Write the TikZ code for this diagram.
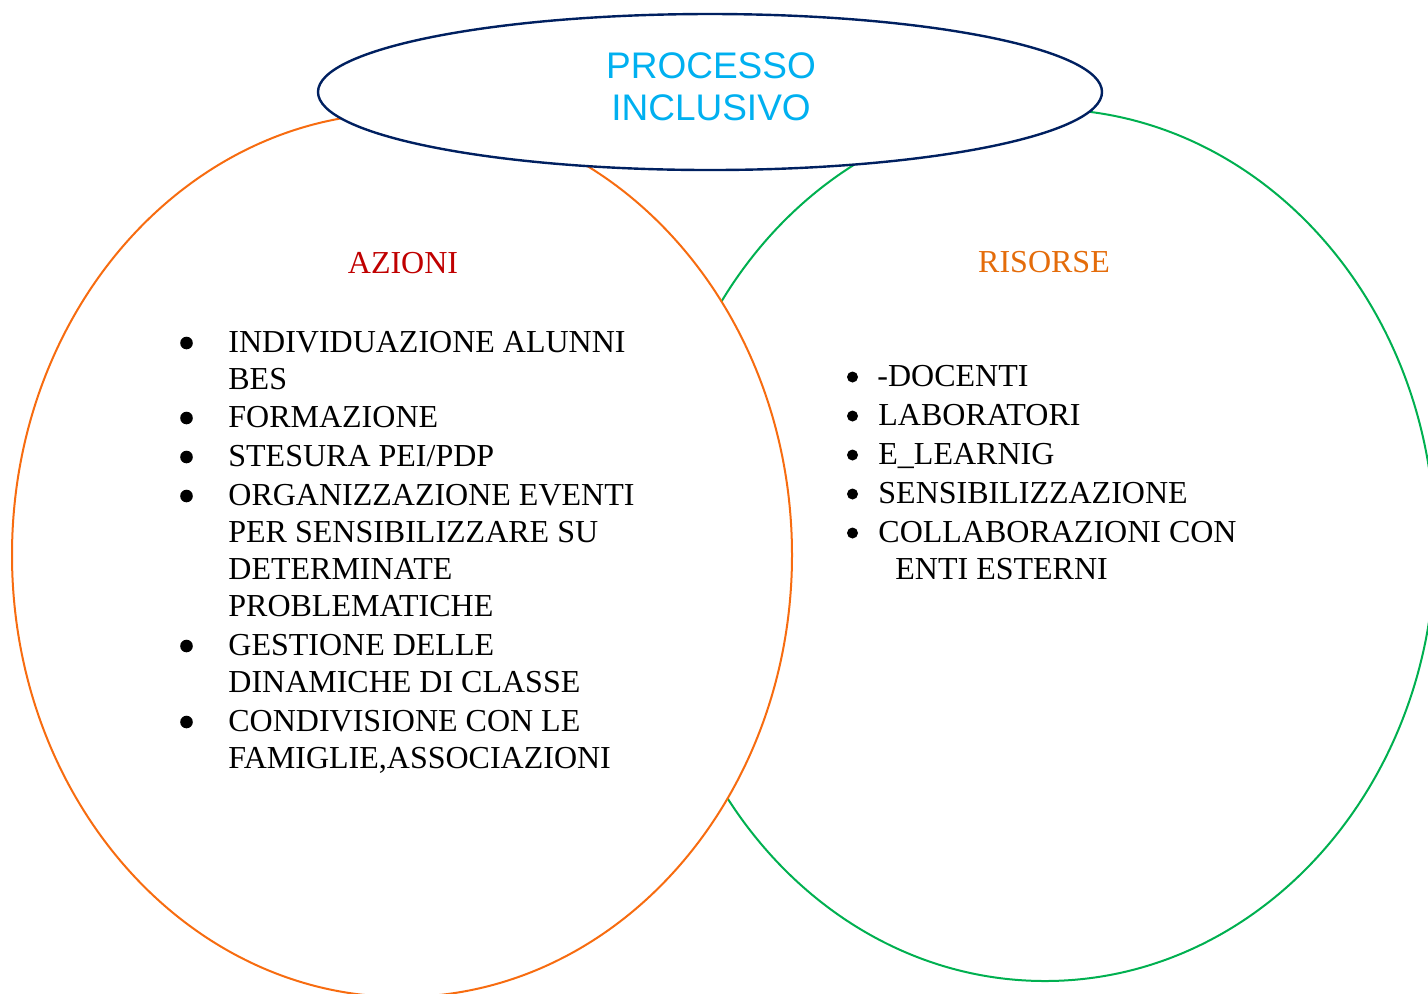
\documentclass[tikz,border=0pt]{standalone}
\usepackage{fontspec}
\setmainfont{Liberation Serif}
\newfontfamily\arialf{Liberation Sans}
\usetikzlibrary{shapes.geometric}
\definecolor{corange}{RGB}{247,108,16}
\definecolor{cgreen}{RGB}{0,176,80}
\definecolor{cnavy}{RGB}{0,32,96}
\definecolor{ccyan}{RGB}{0,176,240}
\definecolor{cred}{RGB}{192,0,0}
\definecolor{crisorse}{RGB}{228,108,10}
\tikzset{
  blob/.style={ellipse, inner sep=0pt, fill=white},
  item/.style={anchor=base west, inner sep=0pt, font=\fontsize{16}{19}\selectfont},
  lbul/.style={circle, fill=black, inner sep=0pt, minimum size=6.3pt},
  rbul/.style={circle, fill=black, inner sep=0pt, minimum size=5.5pt},
  head/.style={anchor=base, inner sep=0pt, font=\fontsize{16}{19}\selectfont},
}
\begin{document}
\begin{tikzpicture}[x=0.5pt,y=-0.5pt]
\useasboundingbox (0,0) rectangle (1428,993);
% ellipses
\node[blob, draw=cgreen, line width=1pt, minimum width=390pt, minimum height=436pt] (risorse) at (1045,545) {};
\node[blob, draw=corange, line width=1pt, minimum width=390pt, minimum height=442pt] (azioni) at (402,555) {};
\node[blob, draw=cnavy, line width=1.2pt, minimum width=392pt, minimum height=78pt] (processo) at (710,92) {};
% title
\node[anchor=base, inner sep=0pt, text=ccyan, font=\arialf\fontsize{18.5}{21}\selectfont] (t1) at (711,78) {PROCESSO};
\node[anchor=base, inner sep=0pt, text=ccyan, font=\arialf\fontsize{18.5}{21}\selectfont] (t2) at (711,120) {INCLUSIVO};
% headings
\node[head, text=cred] (ha) at (403,273) {AZIONI};
\node[head, text=crisorse] (hr) at (1044,272) {RISORSE};
% left list
\node[lbul] (b1) at (186.5,343) {};
\node[item] (l1) at (228,352) {INDIVIDUAZIONE ALUNNI};
\node[item] (l2) at (228,389) {BES};
\node[lbul] (b2) at (186.5,418) {};
\node[item] (l3) at (228,427) {FORMAZIONE};
\node[lbul] (b3) at (186.5,457) {};
\node[item] (l4) at (228,466) {STESURA PEI/PDP};
\node[lbul] (b4) at (186.5,496) {};
\node[item] (l5) at (228,505) {ORGANIZZAZIONE EVENTI};
\node[item] (l6) at (228,542) {PER SENSIBILIZZARE SU};
\node[item] (l7) at (228,579) {DETERMINATE};
\node[item] (l8) at (228,616) {PROBLEMATICHE};
\node[lbul] (b5) at (186.5,646) {};
\node[item] (l9) at (228,655) {GESTIONE DELLE};
\node[item] (l10) at (228,692) {DINAMICHE DI CLASSE};
\node[lbul] (b6) at (186.5,722) {};
\node[item] (l11) at (228,731) {CONDIVISIONE CON LE};
\node[item] (l12) at (228,768) {FAMIGLIE,ASSOCIAZIONI};
% right list
\node[rbul] (r1b) at (852.5,377) {};
\node[item] (r1) at (877,386) {-DOCENTI};
\node[rbul] (r2b) at (852.5,416) {};
\node[item] (r2) at (878,425) {LABORATORI};
\node[rbul] (r3b) at (852.5,455) {};
\node[item] (r3) at (878,464) {E\_LEARNIG};
\node[rbul] (r4b) at (852.5,494) {};
\node[item] (r4) at (878,503) {SENSIBILIZZAZIONE};
\node[rbul] (r5b) at (852.5,533) {};
\node[item] (r5) at (878,542) {COLLABORAZIONI CON};
\node[item] (r6) at (895,579) {ENTI ESTERNI};
\end{tikzpicture}
\end{document}
